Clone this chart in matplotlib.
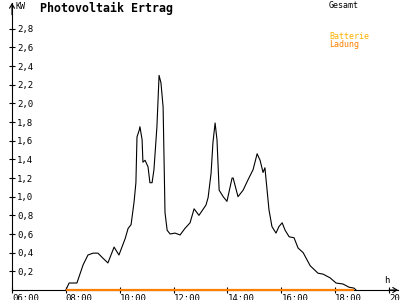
import matplotlib
matplotlib.use("Agg")
import matplotlib.pyplot as plt

# Gesamt (kW) over time of day (hours)
times = [8.0, 8.12, 8.41, 8.64, 8.82, 9.01, 9.19, 9.38, 9.56, 9.79, 9.97, 10.20,
         10.31, 10.42, 10.53, 10.60, 10.64, 10.72, 10.75, 10.83, 10.86, 10.94, 11.05,
         11.12, 11.20, 11.27, 11.38, 11.46, 11.53, 11.61, 11.68, 11.76, 11.87, 12.05,
         12.24, 12.42, 12.61, 12.76, 12.94, 13.20, 13.28, 13.39, 13.46, 13.54, 13.61,
         13.69, 13.84, 13.98, 14.17, 14.21, 14.39, 14.58, 14.76, 14.95, 15.10, 15.21,
         15.32, 15.39, 15.47, 15.54, 15.65, 15.80, 15.91, 16.03, 16.14, 16.29, 16.47,
         16.62, 16.81, 17.07, 17.36, 17.55, 17.81, 18.03, 18.29, 18.51, 18.70, 18.77]
gesamt = [0.0, 0.075, 0.075, 0.27, 0.375, 0.395, 0.395, 0.34, 0.29, 0.46, 0.375, 0.55,
          0.66, 0.70, 0.94, 1.15, 1.64, 1.71, 1.75, 1.61, 1.37, 1.39, 1.32,
          1.15, 1.15, 1.29, 1.75, 2.30, 2.22, 1.96, 0.83, 0.64, 0.60, 0.61,
          0.59, 0.66, 0.72, 0.87, 0.80, 0.91, 0.99, 1.25, 1.58, 1.79, 1.61,
          1.07, 1.00, 0.95, 1.20, 1.20, 1.00, 1.07, 1.18, 1.29, 1.46, 1.39,
          1.26, 1.31, 1.07, 0.86, 0.68, 0.61, 0.68, 0.72, 0.64, 0.57, 0.56,
          0.45, 0.40, 0.26, 0.18, 0.17, 0.13, 0.075, 0.064, 0.03, 0.02, 0.0]

# Batterie Ladung (kW)
bat_times = [8.0, 18.7]
bat_values = [0.0, 0.0]

ytick_vals = [0.2, 0.4, 0.6, 0.8, 1.0, 1.2, 1.4, 1.6, 1.8, 2.0, 2.2, 2.4, 2.6, 2.8]
ytick_labels = ["0,2", "0,4", "0,6", "0,8", "1,0", "1,2", "1,4", "1,6", "1,8",
                "2,0", "2,2", "2,4", "2,6", "2,8"]
xtick_vals = [6, 8, 10, 12, 14, 16, 18, 20]
xtick_labels = ["06:00", "08:00", "10:00", "12:00", "14:00", "16:00", "18:00", "20:00"]

FONT = "DejaVu Sans Mono"

fig = plt.figure(figsize=(4, 3), dpi=100)
ax = fig.add_axes([12 / 400, 10 / 300, 386 / 400, 287 / 300])
ax.set_xlim(6, 20.33)
ax.set_ylim(0, 3.076)
for s in ["top", "right"]:
    ax.spines[s].set_visible(False)
for s in ["left", "bottom"]:
    ax.spines[s].set_linewidth(0.8)
    ax.spines[s].set_color("black")

ax.plot(times, gesamt, color="black", lw=0.8, zorder=3)
ax.plot(bat_times, bat_values, color="#FF8000", lw=1.6, zorder=4, clip_on=False,
        solid_capstyle="butt")

ax.set_yticks(ytick_vals, ytick_labels)
ax.tick_params(axis="y", direction="inout", length=4.5, width=0.8, pad=-5.8,
               labelsize=6.5)
for lab in ax.get_yticklabels():
    lab.set_ha("left")
    lab.set_family(FONT)

ax.set_xticks(xtick_vals, xtick_labels)
ax.tick_params(axis="x", direction="inout", length=4.5, width=0.8, pad=0.5,
               labelsize=6.5)
for lab in ax.get_xticklabels():
    lab.set_ha("left")
    lab.set_family(FONT)

# arrows
ax.annotate("", xy=(6, 3.076), xytext=(6, 2.95), xycoords="data",
            arrowprops=dict(arrowstyle="->,head_length=0.3,head_width=0.18", lw=0.8,
                            color="black", shrinkA=0, shrinkB=0),
            annotation_clip=False)
ax.annotate("", xy=(20.33, 0), xytext=(20.0, 0), xycoords="data",
            arrowprops=dict(arrowstyle="->,head_length=0.3,head_width=0.18", lw=0.8,
                            color="black", shrinkA=0, shrinkB=0),
            annotation_clip=False)

fig.text(15 / 400, 1 - 2 / 300, "KW", family=FONT, fontsize=6, va="top", ha="left")
fig.text(40 / 400, 1 - 2 / 300, "Photovoltaik Ertrag", family=FONT, fontsize=8.4,
         fontweight="bold", va="top", ha="left")
fig.text(329 / 400, 1 - 1 / 300, "Gesamt", family=FONT, fontsize=6, va="top", ha="left",
         color="black")
fig.text(329 / 400, 1 - 32 / 300, "Batterie", family=FONT, fontsize=6, va="top",
         ha="left", color="#FFB000")
fig.text(329 / 400, 1 - 40 / 300, "Ladung", family=FONT, fontsize=6, va="top",
         ha="left", color="#FF8000")
fig.text(384 / 400, 1 - 276 / 300, "h", family=FONT, fontsize=6.5, va="top", ha="left")

fig.savefig("out.png", dpi=100, facecolor="white")
